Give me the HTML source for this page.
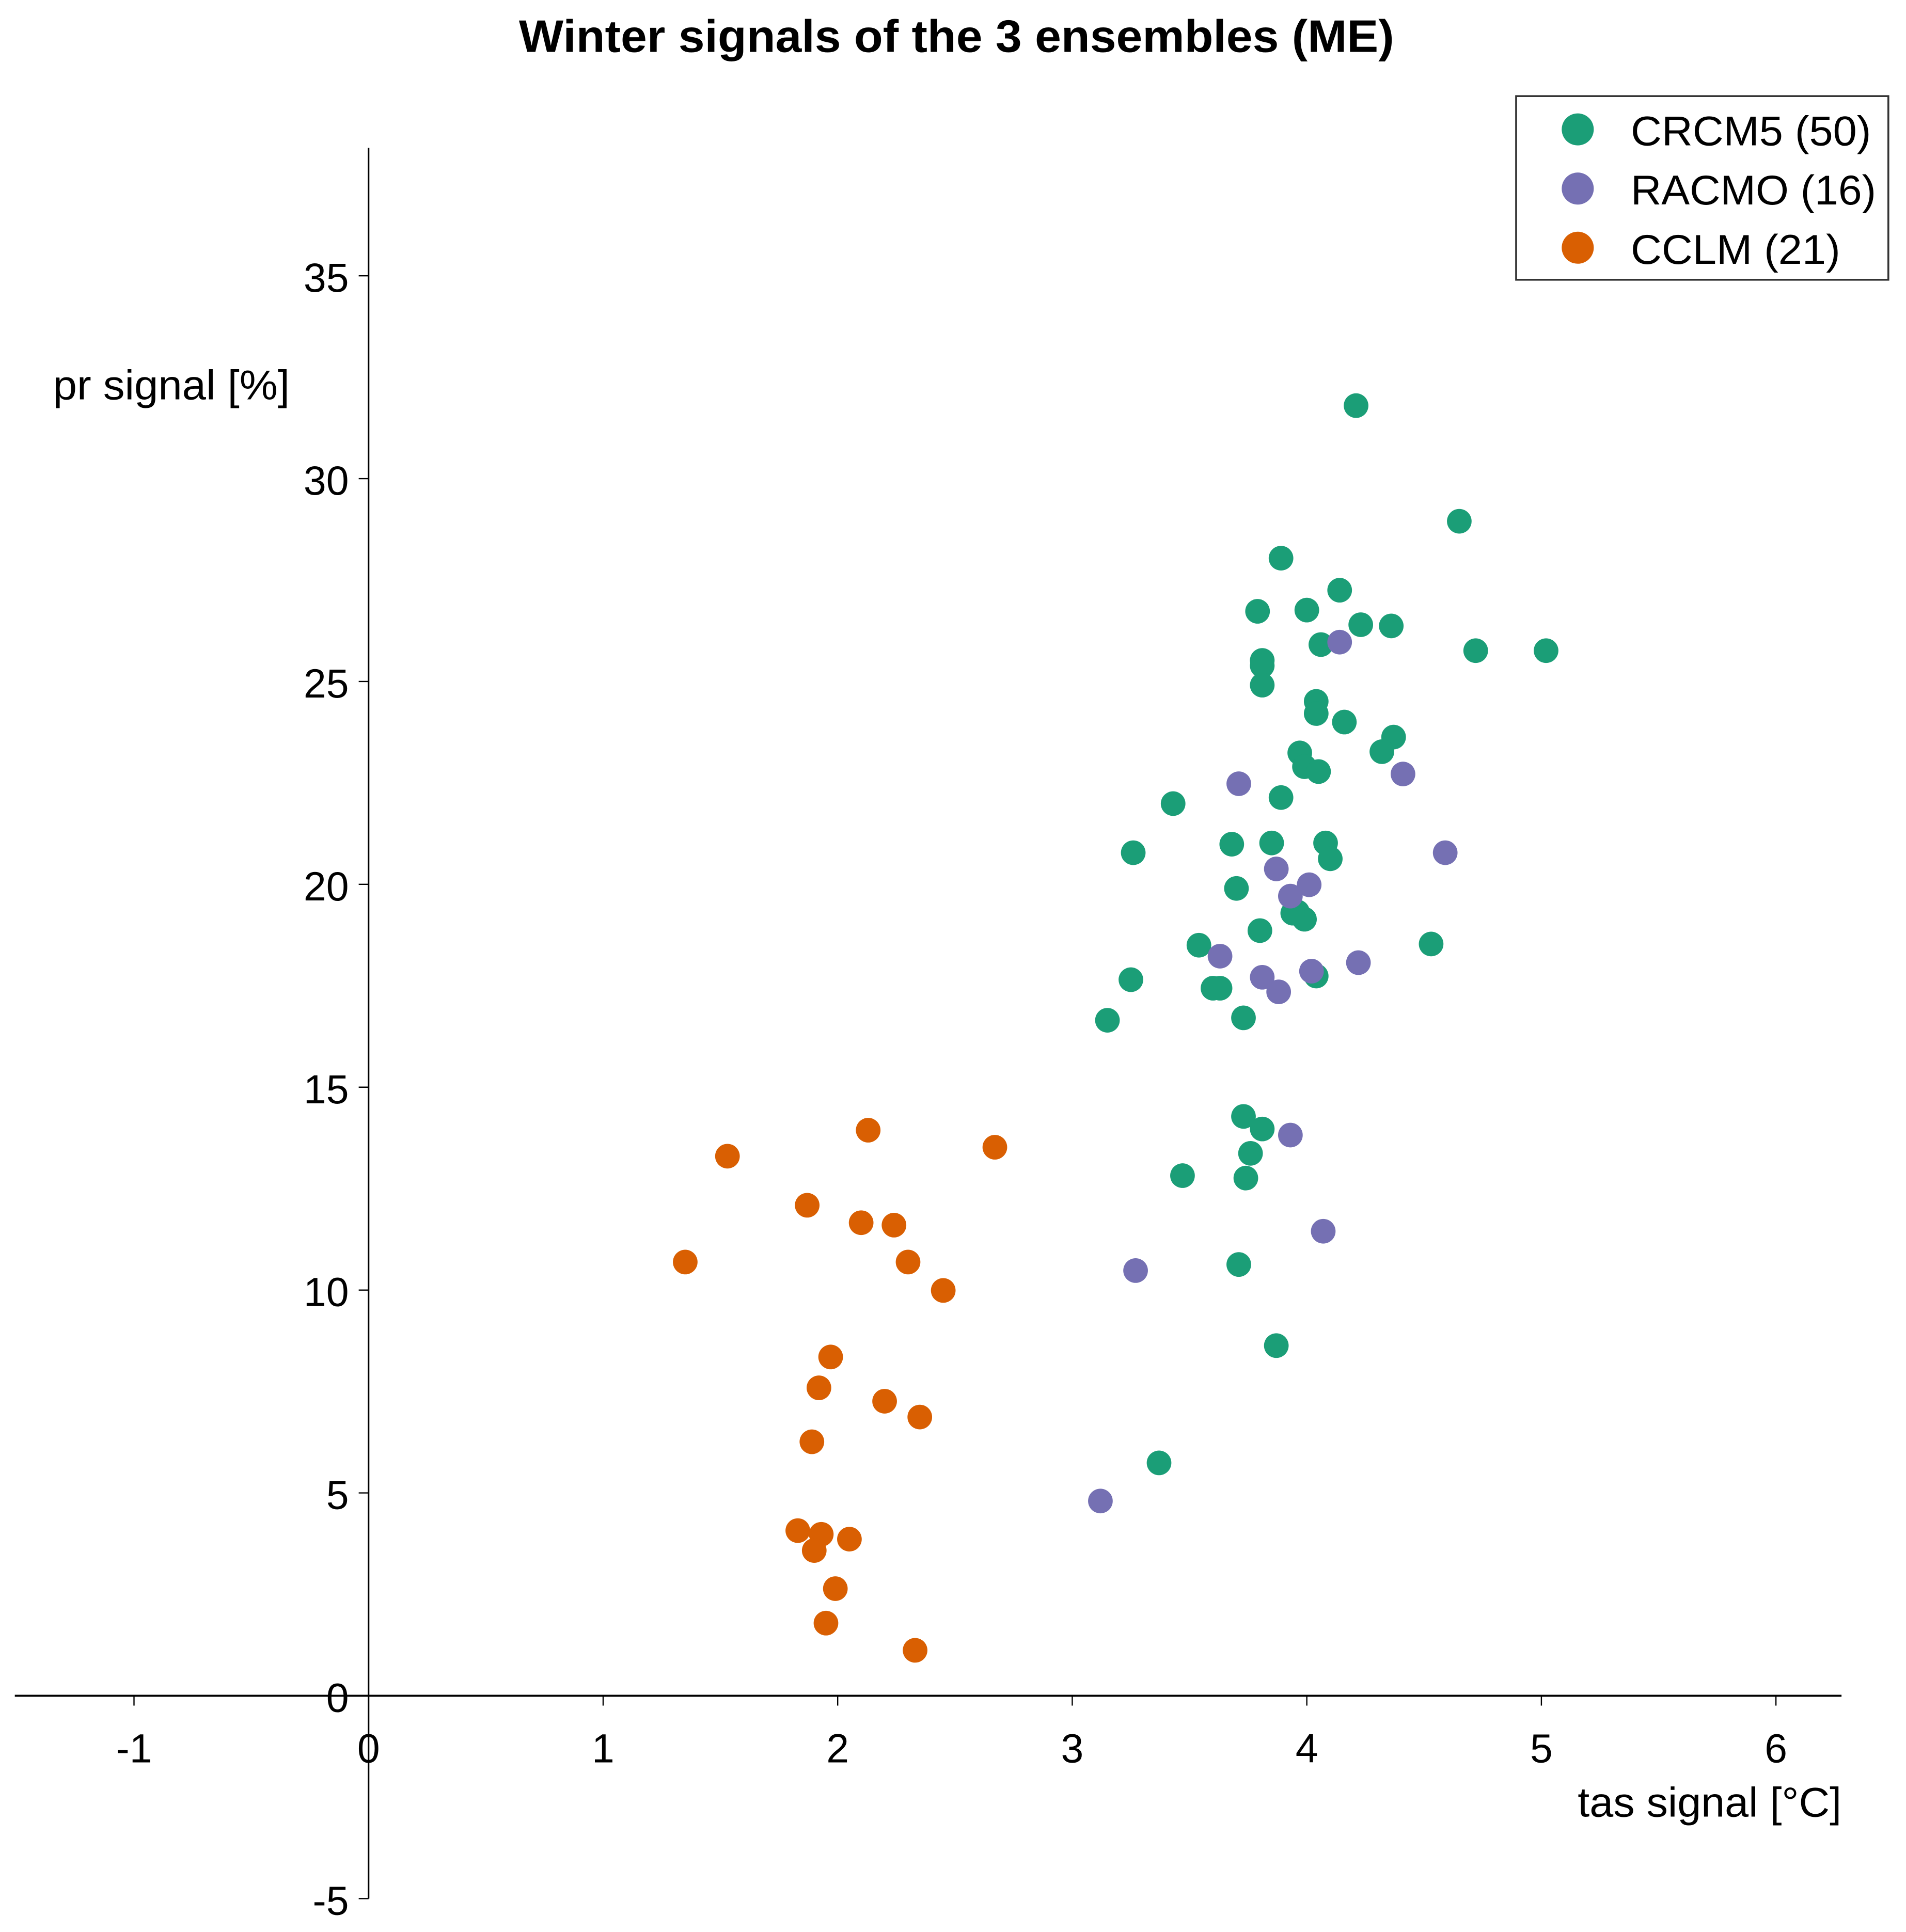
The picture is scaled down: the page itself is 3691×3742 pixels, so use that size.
<!DOCTYPE html>
<html><head><meta charset="utf-8"><style>
html,body{margin:0;padding:0;background:#fff;}
svg{display:block;}
text{font-family:"Liberation Sans",Arial,sans-serif;}
</style></head>
<body>
<svg id="chart" width="3691" height="3742" viewBox="0 0 1546.3 1567.7" xmlns="http://www.w3.org/2000/svg">
<rect width="1546.3" height="1567.7" fill="#fff"/>
<text x="776" y="42" text-anchor="middle" font-size="37" font-weight="bold" textLength="710" lengthAdjust="spacingAndGlyphs">Winter signals of the 3 ensembles (ME)</text>
<g id="axes"></g>
<g id="points"></g>
<g>
<rect x="1230" y="78" width="302" height="149" fill="#fff" stroke="#333" stroke-width="1.5"/>
<circle cx="1280" cy="105" r="13" fill="#1b9e77"/>
<text x="1323" y="118" font-size="34" textLength="195" lengthAdjust="spacingAndGlyphs">CRCM5 (50)</text>
<circle cx="1280" cy="153" r="13" fill="#7570b3"/>
<text x="1323" y="166" font-size="34" textLength="199" lengthAdjust="spacingAndGlyphs">RACMO (16)</text>
<circle cx="1280" cy="201" r="13" fill="#d95f02"/>
<text x="1323" y="214" font-size="34" textLength="170" lengthAdjust="spacingAndGlyphs">CCLM (21)</text>
</g>
<text x="43" y="324" font-size="34" textLength="192" lengthAdjust="spacingAndGlyphs">pr signal [%]</text>
<text x="1280" y="1474" font-size="34" textLength="214" lengthAdjust="spacingAndGlyphs">tas signal [°C]</text>
</svg>
<script>
const xTicks = [-1,0,1,2,3,4,5,6];
const yTicks = [-5,0,5,10,15,20,25,30,35];
const crcm5X = [4.21,4.65,3.89,4.14,3.79,4.00,4.23,4.36,4.72,5.02,4.06,3.81,3.81,3.81,4.04,4.04,4.16,4.37,4.32,3.97,3.99,4.05,3.43,3.89,3.26,3.68,3.85,4.08,4.10,3.70,3.80,3.96,3.99,3.54,4.53,3.25,3.60,3.63,4.04,3.15,3.73,3.73,3.81,3.76,3.47,3.74,3.71,3.87,3.37,3.94];
const crcm5Y = [31.80,28.95,28.04,27.25,26.73,26.76,26.40,26.37,25.76,25.76,25.91,25.52,25.39,24.91,24.51,24.21,24.00,23.63,23.27,23.24,22.90,22.78,21.99,22.14,20.78,20.99,21.02,21.02,20.63,19.90,18.86,19.32,19.14,18.50,18.53,17.65,17.44,17.44,17.74,16.65,16.71,14.28,13.97,13.37,12.82,12.76,10.63,8.63,5.74,19.29];
const racmoX = [4.14,3.71,4.41,4.59,3.87,4.01,3.93,3.63,3.81,3.88,4.02,4.22,3.93,4.07,3.27,3.12];
const racmoY = [25.97,22.48,22.72,20.78,20.38,19.99,19.71,18.23,17.71,17.35,17.86,18.07,13.82,11.45,10.48,4.80];
const cclmX = [2.13,2.67,1.53,1.87,2.10,2.24,1.35,2.30,2.45,1.97,1.92,2.20,2.35,1.89,1.83,1.93,2.05,1.90,1.99,1.95,2.33];
const cclmY = [13.94,13.52,13.30,12.09,11.66,11.60,10.69,10.69,9.99,8.35,7.59,7.26,6.87,6.26,4.07,3.98,3.86,3.58,2.64,1.79,1.12];

const NS = "http://www.w3.org/2000/svg";
function sx(v){ return 299 + v*190.3; }
function sy(v){ return 1376 - v*32.92; }
function mk(tag, attrs, parent){
  const e = document.createElementNS(NS, tag);
  for (const k in attrs) e.setAttribute(k, attrs[k]);
  parent.appendChild(e);
  return e;
}
const axes = document.getElementById('axes');
let l = mk('line', {x1:12, y1:sy(0), x2:1494, y2:sy(0), stroke:'#000', 'stroke-width':1.6}, axes);


l = mk('line', {x1:sx(0), y1:120, x2:sx(0), y2:sy(-5), stroke:'#000', 'stroke-width':1.3}, axes);


xTicks.forEach(t => {
  const tk = mk('line', {x1:sx(t), y1:sy(0), x2:sx(t), y2:sy(0)+8, stroke:'#000', 'stroke-width':1}, axes);
  
  
  const tx = mk('text', {x:sx(t), y:sy(0)+54, 'text-anchor':'middle', 'font-size':33}, axes);
  tx.textContent = String(t);
  
  
});
yTicks.forEach(t => {
  const tk = mk('line', {x1:sx(0)-8, y1:sy(t), x2:sx(0), y2:sy(t), stroke:'#000', 'stroke-width':1}, axes);
  
  
  const tx = mk('text', {x:sx(0)-16, y:sy(t)+13, 'text-anchor':'end', 'font-size':33}, axes);
  tx.textContent = String(t);
  
  
});
const pts = document.getElementById('points');
function series(xs, ys, color, name){
  xs.forEach((x, i) => {
    const c = mk('circle', {cx:sx(x), cy:sy(ys[i]), r:10, fill:color}, pts);
    
    
  });
}
series(crcm5X, crcm5Y, '#1b9e77', 'crcm5');
series(racmoX, racmoY, '#7570b3', 'racmo');
series(cclmX, cclmY, '#d95f02', 'cclm');
</script>
</body></html>
